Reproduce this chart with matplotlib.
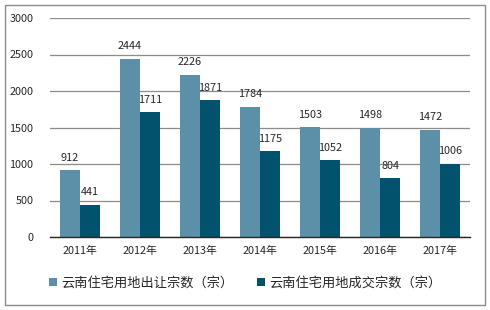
import matplotlib
matplotlib.use("Agg")
import matplotlib.pyplot as plt
import numpy as np
from matplotlib.patches import Rectangle

plt.rcParams['font.family'] = ['Noto Sans CJK SC', 'DejaVu Sans']

years = ["2011年", "2012年", "2013年", "2014年", "2015年", "2016年", "2017年"]
transfer_counts = [912, 2444, 2226, 1784, 1503, 1498, 1472]
deal_counts = [441, 1711, 1871, 1175, 1052, 804, 1006]
series_names = ["云南住宅用地出让宗数（宗）", "云南住宅用地成交宗数（宗）"]

LIGHT = "#5b90a8"
DARK = "#02526d"
TEXT = "#262626"

fig = plt.figure(figsize=(4.9, 3.1), dpi=100)
ax = fig.add_axes([50 / 490, 1 - 237 / 310, 420 / 490, 219 / 310])

x = np.arange(len(years))
w = 1 / 3
b1 = ax.bar(x - w / 2, transfer_counts, width=w, color=LIGHT, label=series_names[0], zorder=2)
b2 = ax.bar(x + w / 2, deal_counts, width=w, color=DARK, label=series_names[1], zorder=2)

for bars in (b1, b2):
    for rect in bars:
        h = rect.get_height()
        ax.annotate(f"{int(h)}", (rect.get_x() + rect.get_width() / 2, h),
                    xytext=(0, 9), textcoords="offset points",
                    ha="center", va="center", fontsize=7.8, color=TEXT, zorder=4)

ax.set_xlim(-0.5, len(years) - 0.5)
ax.set_ylim(0, 3000)
ax.set_yticks(range(0, 3001, 500))
ax.set_xticks(x)
ax.set_xticklabels(years)
ax.yaxis.grid(True, color="#8c8c8c", linewidth=0.9, zorder=0)
ax.set_axisbelow(True)
for side in ("left", "right", "top"):
    ax.spines[side].set_visible(False)
ax.spines["bottom"].set_color("#262626")
ax.spines["bottom"].set_linewidth(1.0)
ax.tick_params(axis="both", length=0, labelsize=7.8, colors=TEXT)
ax.tick_params(axis="y", pad=12)
ax.tick_params(axis="x", pad=6)

fig.legend(loc="center", bbox_to_anchor=(0.5, 1 - 283 / 310), ncol=2, frameon=False,
           fontsize=9.5, handlelength=0.6, handleheight=0.6, handletextpad=0.3,
           columnspacing=1.8, labelcolor=TEXT)

fig.patches.append(Rectangle((5 / 490, 5 / 310), 480 / 490, 300 / 310, transform=fig.transFigure,
                             fill=False, edgecolor="#8c8c8c", linewidth=1.0))

fig.savefig("out.png", dpi=100)
